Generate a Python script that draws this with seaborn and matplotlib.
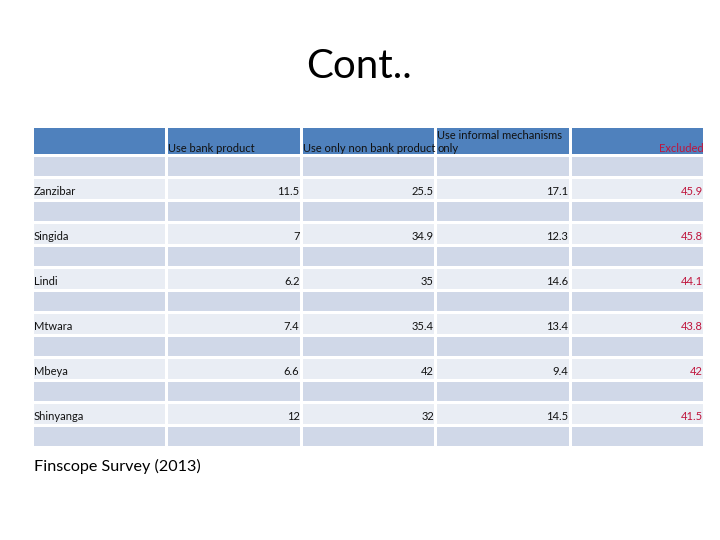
import numpy as np
import pandas as pd
import matplotlib
matplotlib.use('Agg')
import matplotlib.pyplot as plt
from matplotlib.colors import ListedColormap
import seaborn as sns

#data
regions = ['Zanzibar', 'Singida', 'Lindi', 'Mtwara', 'Mbeya', 'Shinyanga']
bank = [11.5, 7, 6.2, 7.4, 6.6, 12]
non_bank = [25.5, 34.9, 35, 35.4, 42, 32]
informal = [17.1, 12.3, 14.6, 13.4, 9.4, 14.5]
excluded = [45.9, 45.8, 44.1, 43.8, 42, 41.5]
headers = ['', 'Use bank product', 'Use only non bank product',
           'Use informal mechanisms\nonly', 'Excluded']

table = pd.DataFrame({'bank': bank, 'non_bank': non_bank,
                      'informal': informal, 'excluded': excluded}, index=regions)

sns.set_theme(style='white')
plt.rcParams['font.family'] = ['Lato', 'DejaVu Sans']
plt.rcParams['text.color'] = 'black'

W, H = 720, 540
fig = plt.figure(figsize=(7.2, 5.4), dpi=100)

def px_axes(x0, y0, x1, y1):
    return fig.add_axes([x0 / W, 1 - y1 / H, (x1 - x0) / W, (y1 - y0) / H])

header_blue = '#4F81BD'
dark_row = '#D0D8E8'
light_row = '#E9EDF4'
red = '#C0143C'

#header row
ax_h = px_axes(32, 126, 704, 155)
sns.heatmap(np.zeros((1, 5)), ax=ax_h, cmap=ListedColormap([header_blue]),
            cbar=False, linewidths=1.0, linecolor='white',
            xticklabels=False, yticklabels=False)
for j, h in enumerate(headers):
    if j == 4:
        ax_h.text(j + 0.995, 0.97, h, ha='right', va='bottom', fontsize=8, color=red)
    elif h:
        ax_h.text(j + 0.015, 0.97, h, ha='left', va='bottom', fontsize=8,
                  color='#111111', linespacing=1.25)

#body: blank row, data row, blank row ...
n_rows = 2 * len(regions) + 1
shade = np.array([[i % 2] * 5 for i in range(n_rows)])
ax_b = px_axes(32, 155, 704, 447)
sns.heatmap(shade, ax=ax_b, cmap=ListedColormap([dark_row, light_row]),
            cbar=False, linewidths=1.0, linecolor='white',
            xticklabels=False, yticklabels=False, vmin=0, vmax=1)

for k, name in enumerate(table.index):
    r = 2 * k + 1 + 0.62
    ax_b.text(0.015, r, name, ha='left', va='center', fontsize=8, color='#111111')
    for j, col in enumerate(table.columns):
        c = red if col == 'excluded' else '#111111'
        ax_b.text(j + 1 + 0.99, r, f'{table.loc[name, col]:g}', ha='right',
                  va='center', fontsize=8, color=c)

fig.text(359 / W, 1 - 67 / H, 'Cont..', ha='center', va='center', fontsize=29,
         color='black')
fig.text(34 / W, 1 - 466 / H, 'Finscope Survey (2013)', ha='left', va='center',
         fontsize=11.6, color='black')

fig.savefig('out.png', dpi=100)
